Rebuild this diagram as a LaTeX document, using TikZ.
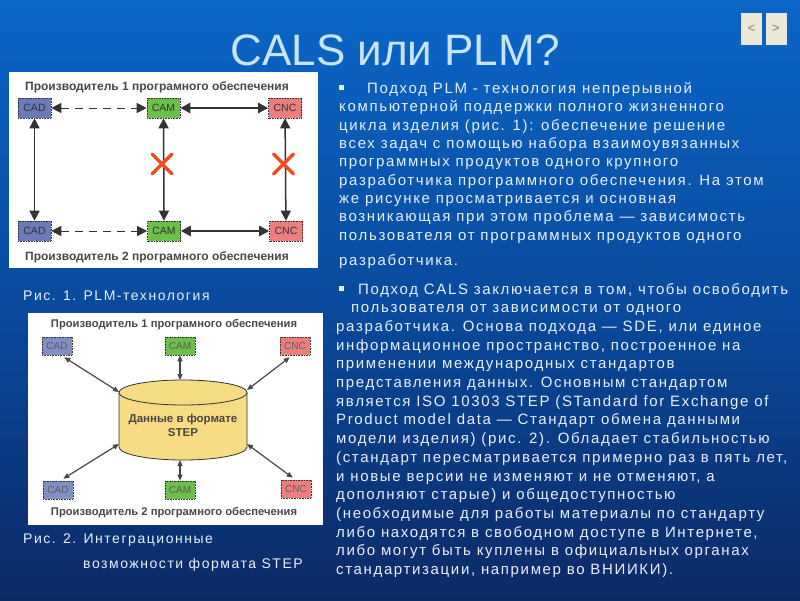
\documentclass[tikz,border=0pt]{standalone}
\usepackage{fontspec}
\setmainfont{Liberation Sans}
\newfontfamily\bodyfont[LetterSpace=11]{Liberation Sans}
\usetikzlibrary{arrows.meta}
\definecolor{bgtop}{HTML}{0A66C8}
\definecolor{bgmid}{HTML}{0A4A9E}
\definecolor{bgbot}{HTML}{0C2A66}
\definecolor{txtc}{HTML}{E8F0F8}
\definecolor{cadc}{HTML}{6B7BB8}
\definecolor{camc}{HTML}{6CBF48}
\definecolor{cncc}{HTML}{EE7E7E}
\definecolor{cylc}{HTML}{F6DC82}
\definecolor{darkc}{HTML}{333333}
\definecolor{redx}{HTML}{F04A1E}
\definecolor{navc}{HTML}{ECE9D8}
\definecolor{titlec}{HTML}{C8E4FF}
\tikzset{
  body/.style={font=\bodyfont\fontsize{15}{18}\selectfont, text=txtc, inner sep=0pt, anchor=base west},
  captxt/.style={body, font=\bodyfont\fontsize{14}{17}\selectfont},
  fbox/.style={draw=darkc, densely dotted, line width=0.6pt, minimum width=33pt, minimum height=20pt, inner sep=0pt, font=\fontsize{10.5}{12}\selectfont, text=darkc},
  sbox/.style={draw=darkc, densely dotted, line width=0.6pt, minimum width=30pt, minimum height=18pt, inner sep=0pt, font=\fontsize{10}{11}\selectfont, text=darkc!80},
  figtitle/.style={font=\bfseries\fontsize{12}{14}\selectfont, text=darkc!90, inner sep=0pt},
  bigarr/.style={darkc, line width=1.5pt, {Triangle[length=10pt,width=10pt]}-{Triangle[length=10pt,width=10pt]}},
  smallarr/.style={darkc!90, line width=1.2pt, {Triangle[length=6pt,width=5pt]}-{Triangle[length=6pt,width=5pt]}},
  xline/.style={redx, line width=3.5pt, line cap=round},
  bullet/.style={fill=txtc, minimum size=5pt, inner sep=0pt},
  navbtn/.style={fill=navc, minimum width=21pt, minimum height=32pt, inner sep=0pt, text=gray, font=\fontsize{13}{14}\selectfont}
}
\begin{document}
\begin{tikzpicture}[x=1pt,y=-1pt]
\useasboundingbox (0,0) rectangle (800,600);
\shade[top color=bgtop, bottom color=bgbot, middle color=bgmid] (0,0) rectangle (800,600);
% nav buttons
\node[navbtn] (prev) at (751.5,29) {<};
\node[navbtn] (next) at (776,29) {>};
% title
\node[font=\fontsize{44}{50}\selectfont, text=titlec, inner sep=0pt] (title) at (395,50) {CALS или PLM?};

% ---------- Figure 1 ----------
\fill[white] (9,72) rectangle (318,268);
\node[figtitle] (f1t) at (157,87) {Производитель 1 програмного обеспечения};
\node[figtitle] (f1b) at (157,257) {Производитель 2 програмного обеспечения};
\node[fbox, fill=cadc] (cad1) at (34.5,108) {CAD};
\node[fbox, fill=camc] (cam1) at (163.5,108) {CAM};
\node[fbox, fill=cncc] (cnc1) at (285,108) {CNC};
\node[fbox, fill=cadc] (cad2) at (34.5,231) {CAD};
\node[fbox, fill=camc] (cam2) at (164,231) {CAM};
\node[fbox, fill=cncc] (cnc2) at (286,231) {CNC};
\draw[bigarr, line width=1pt, dash pattern=on 8pt off 6pt] (cad1) -- (cam1);
\draw[bigarr, line width=2.5pt] (cam1) -- (cnc1);
\draw[bigarr, line width=1pt, dash pattern=on 8pt off 6pt] (cad2) -- (cam2);
\draw[bigarr, line width=2.5pt] (cam2) -- (cnc2);
\draw[bigarr] (cad1) -- (cad2);
\draw[bigarr] (cam1) -- (cam2);
\draw[bigarr] (cnc1) -- (cnc2);
\coordinate (x1) at (162,164);
\coordinate (x2) at (283.5,164);
\draw[xline] ([shift={(-10,-10)}]x1) -- ([shift={(10,10)}]x1);
\draw[xline] ([shift={(-10,10)}]x1) -- ([shift={(10,-10)}]x1);
\draw[xline] ([shift={(-10,-10)}]x2) -- ([shift={(10,10)}]x2);
\draw[xline] ([shift={(-10,10)}]x2) -- ([shift={(10,-10)}]x2);
\node[captxt] (cap1) at (23,300) {Рис. 1. PLM-технология};

% ---------- Figure 2 ----------
\fill[white] (28,313) rectangle (323,525);
\node[figtitle, font=\bfseries\fontsize{11.2}{13}\selectfont] (f2t) at (174,325) {Производитель 1 програмного обеспечения};
\node[figtitle, font=\bfseries\fontsize{11.2}{13}\selectfont] (f2b) at (174,513) {Производитель 2 програмного обеспечения};
\node[sbox, fill=cadc!85!white] (scad1) at (57,346) {CAD};
\node[sbox, fill=camc] (scam1) at (180,346) {CAM};
\node[sbox, fill=cncc] (scnc1) at (295,346) {CNC};
\node[sbox, fill=cadc!85!white] (scad2) at (58,490) {CAD};
\node[sbox, fill=camc] (scam2) at (180,490) {CAM};
\node[sbox, fill=cncc] (scnc2) at (296,489) {CNC};
% cylinder
\filldraw[fill=cylc, draw=darkc, line width=0.8pt] (119,392.5) -- (119,447) arc[start angle=180, end angle=0, x radius=64, y radius=13] -- (247,392.5) arc[start angle=0, end angle=-180, x radius=64, y radius=12.5] -- cycle;
\draw[darkc, line width=0.8pt] (119,392.5) arc[start angle=180, end angle=0, x radius=64, y radius=12.5];
\node[figtitle, align=center, font=\bfseries\fontsize{11.5}{14}\selectfont] (cyltxt) at (183,425) {Данные в формате\\STEP};
\coordinate (ctl) at (119,392);
\coordinate (ctop) at (180,380);
\coordinate (ctr) at (247,390);
\coordinate (cbl) at (119,444);
\coordinate (cbot) at (180,460);
\coordinate (cbr) at (247,444);
\draw[smallarr] (scad1.south east) ++(-8,2) coordinate (a1) (a1) -- (ctl);
\draw[smallarr] (scam1) -- (ctop);
\draw[smallarr] (scnc1.south west) ++(10,2) coordinate (a3) (a3) -- (ctr);
\draw[smallarr] (cbl) -- ([shift={(-10,-2)}]scad2.north east);
\draw[smallarr] (cbot) -- (scam2);
\draw[smallarr] (cbr) -- ([shift={(12,-2)}]scnc2.north west);
\node[captxt] (cap2a) at (23,543) {Рис. 2. Интеграционные};
\node[captxt] (cap2b) at (83,568) {возможности формата STEP};

% ---------- Text 1 ----------
\node[bullet] (b1) at (341.5,87) {};
\node[body] (p1l1) at (367,93) {Подход PLM - технология непрерывной};
\node[body] (p1l2) at (339,111.5) {компьютерной поддержки полного жизненного};
\node[body] (p1l3) at (339,130) {цикла изделия (рис. 1): обеспечение решение};
\node[body] (p1l4) at (339,148.3) {всех задач с помощью набора взаимоувязанных};
\node[body] (p1l5) at (339,166.7) {программных продуктов одного крупного};
\node[body] (p1l6) at (339,185) {разработчика программного обеспечения. На этом};
\node[body] (p1l7) at (339,203.3) {же рисунке просматривается и основная};
\node[body] (p1l8) at (339,221.7) {возникающая при этом проблема — зависимость};
\node[body] (p1l9) at (339,240) {пользователя от программных продуктов одного};
\node[body] (p1l10) at (339,265) {разработчика.};

% ---------- Text 2 ----------
\node[bullet] (b2) at (341.5,288) {};
\node[body] (p2l1) at (358,294) {Подход CALS заключается в том, чтобы освободить};
\node[body] (p2l2) at (351,312.7) {пользователя от зависимости от одного};
\node[body] (p2l3) at (336,331.4) {разработчика. Основа подхода — SDE, или единое};
\node[body] (p2l4) at (336,350.1) {информационное пространство, построенное на};
\node[body] (p2l5) at (336,368.8) {применении международных стандартов};
\node[body] (p2l6) at (336,387.5) {представления данных. Основным стандартом};
\node[body] (p2l7) at (336,406.2) {является ISO 10303 STEP (STandard for Exchange of};
\node[body] (p2l8) at (336,424.9) {Product model data — Стандарт обмена данными};
\node[body] (p2l9) at (336,443.6) {модели изделия) (рис. 2). Обладает стабильностью};
\node[body] (p2l10) at (336,462.3) {(стандарт пересматривается примерно раз в пять лет,};
\node[body] (p2l11) at (336,481) {и новые версии не изменяют и не отменяют, а};
\node[body] (p2l12) at (336,499.7) {дополняют старые) и общедоступностью};
\node[body] (p2l13) at (336,518.4) {(необходимые для работы материалы по стандарту};
\node[body] (p2l14) at (336,537.1) {либо находятся в свободном доступе в Интернете,};
\node[body] (p2l15) at (336,555.8) {либо могут быть куплены в официальных органах};
\node[body] (p2l16) at (336,574.5) {стандартизации, например во ВНИИКИ).};
\end{tikzpicture}
\end{document}
